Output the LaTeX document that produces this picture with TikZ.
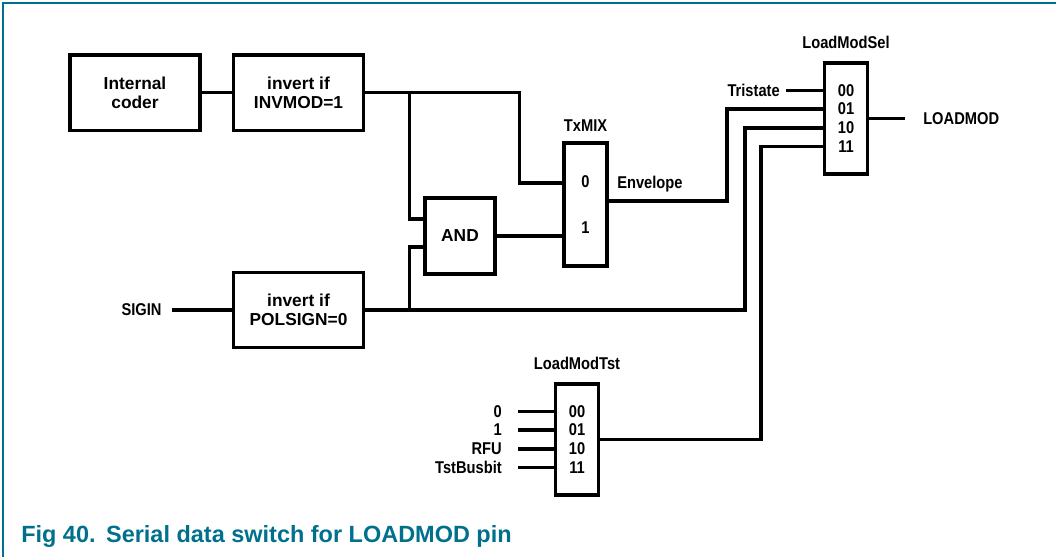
\documentclass[tikz,border=0pt]{standalone}
\usepackage{fontspec}
\setmainfont{Liberation Sans}
\newfontfamily\narrowfont[FakeStretch=0.86]{Liberation Sans}
\usetikzlibrary{positioning,calc}
\definecolor{nxpteal}{RGB}{0,112,140}

\tikzset{
  blockbox/.style={draw, line width=2.5pt, align=center, minimum width=97.5pt, minimum height=56.5pt, font=\bfseries\fontsize{13}{14}\selectfont},
  muxbox/.style={draw, line width=2.5pt, minimum width=32pt, minimum height=83.25pt},
  sig/.style={inner sep=0pt, font=\narrowfont\bfseries\fontsize{12.8}{13}\selectfont},
  wire/.style={line width=2.5pt}
}

\begin{document}
\begin{tikzpicture}[x=0.75pt,y=-0.75pt]
\useasboundingbox (0,0) rectangle (1056,557);

% ================= FRAME =================
\draw[nxpteal, line width=1.1pt] (3,557) -- (3,3) -- (1056,3);

% ================= BLOCKS =================
\node[blockbox] (coder) at (135,92.5) {Internal\\coder};
\node[blockbox] (invmod) at (298.5,92.5) {invert if\\INVMOD=1};
\node[blockbox] (polsign) at (298.5,310) {invert if\\POLSIGN=0};
\node[blockbox, minimum width=52.5pt, minimum height=57pt] (andgate) at (460,236) {AND};

% ================= MULTIPLEXERS =================
\node[muxbox, minimum width=32.25pt, minimum height=92.25pt] (txmix) at (585.5,204.5) {};
\node[muxbox] (loadsel) at (846,118.5) {};
\node[muxbox] (loadtst) at (577,439.5) {};

\node[sig, above=7.5pt of txmix] (txtitle) {TxMIX};
\node[sig, above=9pt of loadsel] (seltitle) {LoadModSel};
\node[sig, above=9.5pt of loadtst] (tsttitle) {LoadModTst};

\node[sig] (txlbl0) at (585.5,182) {0};
\node[sig] (txlbl1) at (585.5,228) {1};

% ports
\coordinate (tx0) at ($(txmix.west)+(0,-21.5)$);
\coordinate (tx1) at (txmix.west |- andgate.east);
\coordinate (txout) at ($(txmix.east)+(0,-3.5)$);
\foreach \p/\dy in {0/-28,1/-9.5,2/9.5,3/28} {
  \coordinate (sel\p) at ($(loadsel.west)+(0,\dy)$);
  \coordinate (tst\p) at ($(loadtst.west)+(0,\dy)$);
}
\foreach \p/\code in {0/00,1/01,2/10,3/11} {
  \node[sig] (selcode\p) at (loadsel.center |- sel\p) {\code};
  \node[sig] (tstcode\p) at (loadtst.center |- tst\p) {\code};
}

% ================= SIGNAL LABELS =================
\node[sig, anchor=east] (sigin) at ($(polsign.west)+(-70,0)$) {SIGIN};
\node[sig, anchor=east] (tristate) at ($(sel0)+(-43,0)$) {Tristate};
\node[sig, anchor=west] (loadmod) at ($(loadsel.east)+(54,0)$) {LOADMOD};
\node[sig, anchor=base west] (envlbl) at (617,188) {Envelope};

% ================= WIRES =================
\coordinate (jinv) at ($(invmod.east)+(44.5,0)$);
\coordinate (jpol) at ($(polsign.east)+(44.5,0)$);
\coordinate (and1) at ($(andgate.west)+(0,-17)$);
\coordinate (and2) at ($(andgate.west)+(0,11)$);

\draw[wire] (coder.east) -- (invmod.west);
\draw[wire] (invmod.east) -| ($(tx0)+(-43,0)$) -- (tx0);
\draw[wire] (jinv) |- (and1);
\draw[wire] (jpol) |- (and2);
\draw[wire] (andgate.east) -- (tx1);
\draw[wire] ([xshift=7.5pt]sigin.east) -- (polsign.west);
\draw[wire] (polsign.east) -| ($(sel2)+(-78,0)$) -- (sel2);
\draw[wire] (txout) -| ($(sel1)+(-96,0)$) -- (sel1);
\draw[wire] ([xshift=4.5pt]tristate.east) -- (sel0);
\draw[wire] (loadtst.east) -| ($(sel3)+(-62,0)$) -- (sel3);
\draw[wire] (loadsel.east) -- ([xshift=-13.5pt]loadmod.west);

% test inputs
\foreach \p/\lbl in {0/0,1/1,2/RFU,3/TstBusbit} {
  \node[sig, anchor=east] (tin\p) at ($(tst\p)+(-52,0)$) {\lbl};
  \draw[wire] ([xshift=12pt]tin\p.east) -- (tst\p);
}

% ================= CAPTION =================
\node[anchor=base west, inner sep=0pt, text=nxpteal, font=\bfseries\fontsize{17.6}{20}\selectfont] (caption) at (21,542) {Fig 40.\hspace{0.45em}Serial data switch for LOADMOD pin};

\end{tikzpicture}
\end{document}
